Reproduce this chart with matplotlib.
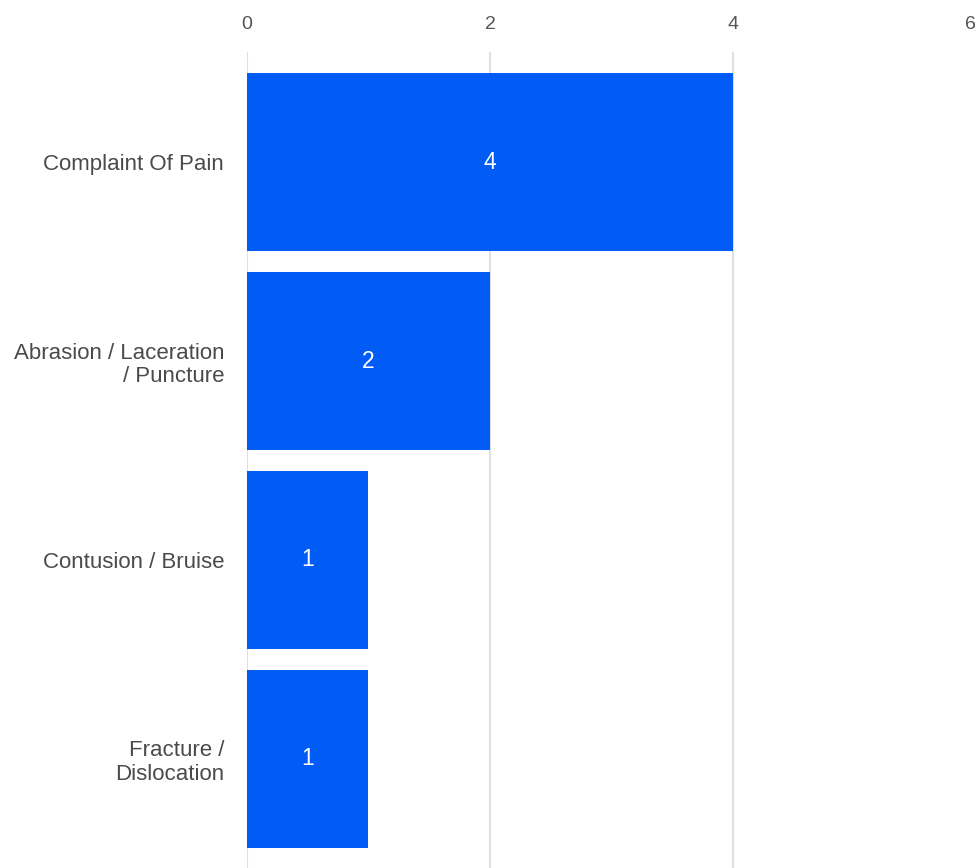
import matplotlib
matplotlib.use("Agg")
import matplotlib.pyplot as plt

plt.rcParams['font.family'] = ['Liberation Sans', 'DejaVu Sans']

categories = ["Complaint Of Pain", "Abrasion / Laceration\n/ Puncture", "Contusion / Bruise", "Fracture /\nDislocation"]
values = [4, 2, 1, 1]
ticks = [0, 2, 4, 6]

bar_color = "#005CF5"

fig = plt.figure(figsize=(9.77, 8.68), dpi=100)
ax = fig.add_axes([247/977, 0, 729/977, 816/868])

ypos = list(range(len(categories)))
bars = ax.barh(ypos, values, height=0.894, color=bar_color, zorder=2)

for y, v in zip(ypos, values):
    ax.text(v / 2, y, str(v), color="white", fontsize=16.5, ha="center", va="center", zorder=3)

ax.set_xlim(0, 6)
ax.set_ylim(3.548, -0.553)
ax.set_yticks(ypos)
ax.set_yticklabels(categories, fontsize=16, color="#4a4a4a", linespacing=1.15)
ax.xaxis.tick_top()
ax.set_xticks(ticks)
ax.set_xticklabels([str(t) for t in ticks], fontsize=14, color="#555555")
ax.tick_params(axis="x", length=0, pad=13.5)
ax.tick_params(axis="y", length=0, pad=16.5)
ax.get_xticklabels()[-1].set_horizontalalignment("right")

# vertical grid lines, except the one at the right edge
for t in ticks[:-1]:
    ax.axvline(t, color="#e0e0e0", linewidth=1.5, zorder=1)
for s in ax.spines.values():
    s.set_visible(False)

fig.savefig("out.png", dpi=100)
